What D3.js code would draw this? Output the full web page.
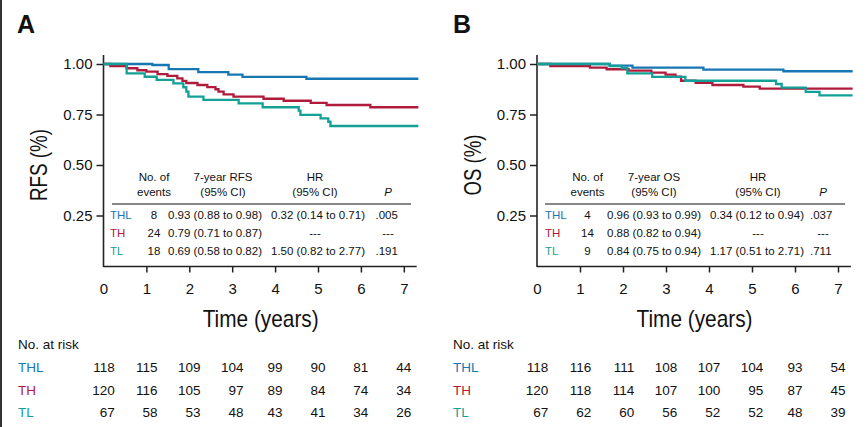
<!DOCTYPE html>
<html lang="en">
<head>
<meta charset="UTF-8">
<title>RFS / OS</title>
<style>
  body { margin: 0; background: #fff; }
  svg text { font-family: "Liberation Sans", Arial, sans-serif; fill: #111; }
  .cond { font-family: "Liberation Sans Narrow", "Liberation Sans", Arial, sans-serif; }
</style>
</head>
<body>
<script src="https://d3js.org/d3.v7.min.js"></script>
<script>
// ---- data ----
var groups = ["THL", "TH", "TL"];
var colors = ["#1677b3", "#b01a3b", "#13a097"];
var years = [0, 1, 2, 3, 4, 5, 6, 7];
var yTicks = [0.25, 0.5, 0.75, 1.0];
var tEnd = 7.34;

// step points [time (years), survival]
var rfsTHL = [[1.14, 0.995], [1.52, 0.975], [2.21, 0.960], [2.91, 0.947], [3.24, 0.936], [4.73, 0.927]];
var rfsTH = [[0.16, 0.989], [0.54, 0.979], [0.79, 0.969], [1.00, 0.962], [1.26, 0.950], [1.49, 0.941],
             [1.72, 0.929], [1.84, 0.916], [1.93, 0.906], [2.19, 0.896], [2.42, 0.886], [2.61, 0.875],
             [2.68, 0.863], [2.80, 0.850], [3.03, 0.838], [3.73, 0.828], [4.20, 0.818], [4.83, 0.808],
             [5.20, 0.797], [6.22, 0.786]];
var rfsTL = [[0.54, 0.954], [0.96, 0.937], [1.24, 0.921], [1.63, 0.904], [1.86, 0.885], [1.93, 0.863],
             [1.98, 0.838], [2.33, 0.822], [3.15, 0.805], [3.71, 0.786], [4.55, 0.769], [4.59, 0.748],
             [5.06, 0.731], [5.24, 0.714], [5.29, 0.693]];

var osTHL = [[1.69, 0.992], [2.22, 0.982], [3.87, 0.972], [5.73, 0.964]];
var osTH = [[0.31, 0.990], [1.23, 0.982], [1.62, 0.974], [2.13, 0.967], [2.66, 0.957], [2.99, 0.947],
            [3.22, 0.937], [3.35, 0.917], [3.69, 0.907], [4.08, 0.896], [4.80, 0.888], [5.18, 0.878]];
var osTL = [[1.69, 0.990], [1.97, 0.980], [2.10, 0.954], [2.68, 0.936], [3.45, 0.917], [5.56, 0.901],
            [5.69, 0.883], [6.25, 0.862], [6.57, 0.845]];

// inset tables
var rfsEvents = ["8", "24", "18"];
var rfsRate = ["0.93 (0.88 to 0.98)", "0.79 (0.71 to 0.87)", "0.69 (0.58 to 0.82)"];
var rfsHR = ["0.32 (0.14 to 0.71)", "---", "1.50 (0.82 to 2.77)"];
var rfsP = [".005", "---", ".191"];

var osEvents = ["4", "14", "9"];
var osRate = ["0.96 (0.93 to 0.99)", "0.88 (0.82 to 0.94)", "0.84 (0.75 to 0.94)"];
var osHR = ["0.34 (0.12 to 0.94)", "---", "1.17 (0.51 to 2.71)"];
var osP = [".037", "---", ".711"];

// number at risk
var rfsRisk = [[118, 115, 109, 104, 99, 90, 81, 44],
               [120, 116, 105, 97, 89, 84, 74, 34],
               [67, 58, 53, 48, 43, 41, 34, 26]];
var osRisk = [[118, 116, 111, 108, 107, 104, 93, 54],
              [120, 118, 114, 107, 100, 95, 87, 45],
              [67, 62, 60, 56, 52, 52, 48, 39]];

var width = 865, height = 427;
var svg = d3.select("body").append("svg").attr("width", width).attr("height", height);

// left border line
svg.append("rect").attr("x", 0).attr("y", 0).attr("width", 2).attr("height", height).attr("fill", "#333");

var y = d3.scaleLinear().domain([0, 1]).range([266, 64]);

function panel(opt) {
  var x = d3.scaleLinear().domain([0, 7]).range([opt.x0, opt.x0 + 7 * opt.step]);
  var g = svg.append("g");

  g.append("text").attr("x", opt.letterX).attr("y", 33)
    .style("font-size", "25px").style("font-weight", "bold").text(opt.letter);

  // y axis
  var ya = g.append("g").attr("transform", "translate(" + opt.x0 + ",0)")
    .call(d3.axisLeft(y).tickValues(yTicks).tickSize(7).tickPadding(4).tickFormat(d3.format(".2f")));
  ya.select(".domain").remove();
  ya.selectAll(".tick line").attr("stroke", "#222").attr("stroke-width", 1.5);
  ya.selectAll(".tick text").style("font-size", "15px").style("font-family", "Liberation Sans, Arial").attr("fill", "#111");
  g.append("line").attr("x1", opt.x0).attr("x2", opt.x0).attr("y1", 55).attr("y2", 267)
    .attr("stroke", "#222").attr("stroke-width", 1.6);

  // x axis
  var xa = g.append("g").attr("transform", "translate(0,266.5)")
    .call(d3.axisBottom(x).tickValues(years).tickSize(6).tickPadding(11).tickFormat(d3.format("d")));
  xa.select(".domain").remove();
  xa.selectAll(".tick line").attr("stroke", "#222").attr("stroke-width", 1.5)
    .attr("opacity", function(d) { return d === 0 ? 0 : 1; });
  xa.selectAll(".tick text").style("font-size", "15px").style("font-family", "Liberation Sans, Arial").attr("fill", "#111");
  g.append("line").attr("x1", opt.x0).attr("x2", x(7.3)).attr("y1", 266.5).attr("y2", 266.5)
    .attr("stroke", "#222").attr("stroke-width", 1.6);

  // axis titles (condensed)
  g.append("text").attr("class", "cond").attr("x", (opt.x0 + x(7)) / 2 + 7).attr("y", 327)
    .attr("text-anchor", "middle").style("font-size", "24px")
    .attr("textLength", 116).attr("lengthAdjust", "spacingAndGlyphs").text("Time (years)");
  g.append("text").attr("class", "cond")
    .attr("transform", "translate(" + opt.yLabX + ",165) rotate(-90)")
    .attr("text-anchor", "middle").style("font-size", "24px")
    .attr("textLength", opt.yLabLen).attr("lengthAdjust", "spacingAndGlyphs").text(opt.yLabel);

  // curves
  var line = d3.line().x(function(d) { return x(d[0]); }).y(function(d) { return y(d[1]); })
    .curve(d3.curveStepAfter);
  opt.curves.forEach(function(c, i) {
    var pts = [[0, 1]].concat(c);
    pts.push([tEnd, c[c.length - 1][1]]);
    g.append("path").datum(pts).attr("d", line).attr("fill", "none")
      .attr("stroke", colors[i]).attr("stroke-width", 2.3);
  });

  // inset table
  var fs = "11.5px";
  var t = opt.table;
  function hdr(cx, l1, l2) {
    g.append("text").attr("x", cx).attr("y", 181).attr("text-anchor", "middle").style("font-size", fs).text(l1);
    g.append("text").attr("x", cx).attr("y", 196).attr("text-anchor", "middle").style("font-size", fs).text(l2);
  }
  hdr(t.evX, "No. of", "events");
  hdr(t.rateX, t.rateLabel, "(95% CI)");
  hdr(t.hrX, "HR", "(95% CI)");
  g.append("text").attr("x", t.pX).attr("y", 196).attr("text-anchor", "middle")
    .style("font-size", fs).style("font-style", "italic").text("P");
  g.append("line").attr("x1", t.lineX1).attr("x2", t.lineX2).attr("y1", 204).attr("y2", 204)
    .attr("stroke", "#111").attr("stroke-width", 1.2);

  var rowY = [219, 237, 255];
  groups.forEach(function(name, i) {
    g.append("text").attr("x", t.labX).attr("y", rowY[i]).style("font-size", fs)
      .style("fill", colors[i]).text(name);
    g.append("text").attr("x", t.evX).attr("y", rowY[i]).attr("text-anchor", "middle").style("font-size", fs).text(t.events[i]);
    g.append("text").attr("x", t.rateStart).attr("y", rowY[i]).style("font-size", fs).text(t.rate[i]);
    if (t.hr[i] === "---") {
      g.append("text").attr("x", t.hrX).attr("y", rowY[i]).attr("text-anchor", "middle").style("font-size", fs).text("---");
      g.append("text").attr("x", t.pX).attr("y", rowY[i]).attr("text-anchor", "middle").style("font-size", fs).text("---");
    } else {
      g.append("text").attr("x", t.hrStart).attr("y", rowY[i]).style("font-size", fs).text(t.hr[i]);
      g.append("text").attr("x", t.pStart).attr("y", rowY[i]).style("font-size", fs).text(t.p[i]);
    }
  });

  // number at risk
  var rfs = "13.5px";
  g.append("text").attr("x", opt.riskX).attr("y", 349).style("font-size", rfs).text("No. at risk");
  var riskY = [372, 394.5, 417];
  var digitW = 7.5;
  groups.forEach(function(name, i) {
    g.append("text").attr("x", opt.riskX).attr("y", riskY[i]).style("font-size", rfs)
      .style("fill", colors[i]).text(name);
  });
  years.forEach(function(yr, j) {
    var maxLen = d3.max(opt.risk, function(r) { return String(r[j]).length; });
    var right = x(yr) + maxLen * digitW / 2;
    opt.risk.forEach(function(r, i) {
      g.append("text").attr("x", right).attr("y", riskY[i]).attr("text-anchor", "end")
        .style("font-size", rfs).text(r[j]);
    });
  });
}

panel({
  x0: 103.5, step: 42.9, letter: "A", letterX: 17, yLabel: "RFS (%)", yLabX: 47, yLabLen: 72,
  curves: [rfsTHL, rfsTH, rfsTL], risk: rfsRisk, riskX: 18,
  table: { labX: 110, evX: 154, rateX: 223, hrX: 315, pX: 388, rateStart: 168, hrStart: 271, pStart: 375.5,
           lineX1: 112, lineX2: 411, rateLabel: "7-year RFS",
           events: rfsEvents, rate: rfsRate, hr: rfsHR, p: rfsP }
});

panel({
  x0: 537, step: 43, letter: "B", letterX: 453, yLabel: "OS (%)", yLabX: 481, yLabLen: 61,
  curves: [osTHL, osTH, osTL], risk: osRisk, riskX: 453,
  table: { labX: 545, evX: 587.5, rateX: 654, hrX: 758, pX: 823, rateStart: 607, hrStart: 710, pStart: 810,
           lineX1: 545, lineX2: 845, rateLabel: "7-year OS",
           events: osEvents, rate: osRate, hr: osHR, p: osP }
});
</script>
</body>
</html>
